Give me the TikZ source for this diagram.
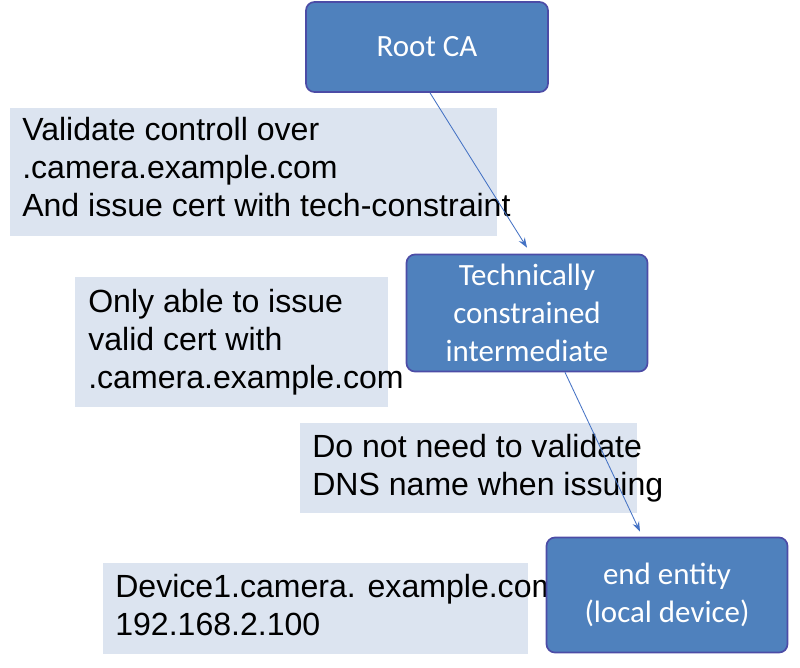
\documentclass[tikz,border=0pt]{standalone}
\usepackage{fontspec}
\setmainfont{Carlito}
\newfontfamily\notefont{Liberation Sans}
\usetikzlibrary{arrows.meta}
\begin{document}
\begin{tikzpicture}[x=0.025cm,y=-0.025cm,
  ca/.style={draw=blue!50!black!70, line width=1.2pt, fill={rgb,255:red,79;green,129;blue,189},
    rounded corners=6pt, text=white, font=\fontsize{22}{27}\selectfont, align=center, inner sep=0pt},
  note/.style={fill={rgb,255:red,220;green,228;blue,240}, draw=none},
  txt/.style={anchor=north west, align=left, inner sep=0pt, font=\notefont\fontsize{22.8}{27}\selectfont},
  link/.style={draw={rgb,255:red,68;green,114;blue,196}, line width=0.6pt, -{Stealth[length=7pt,width=5pt]}}]
\useasboundingbox (0,0) rectangle (800,667);
% notes
\fill[note] (10,108) rectangle (497,236);
\fill[note] (75,277) rectangle (388,407);
\fill[note] (300,423) rectangle (637,513);
\fill[note] (103,563) rectangle (528,654);
\node[txt] (t1) at (22,117) {Validate controll over\\.camera.example.com\\And issue cert with tech-constraint};
\node[txt] (t2) at (88,289) {Only able to issue\\valid cert with\\.camera.example.com};
\node[txt] (t3) at (312,434) {Do not need to validate\\DNS name when issuing};
\node[txt] (t4) at (115,574) {Device1.camera. example.com\\192.168.2.100};
% CA boxes
\node[ca, minimum width=242*0.025cm, minimum height=90*0.025cm] (root) at (427,47) {Root CA};
\node[ca, minimum width=241*0.025cm, minimum height=117*0.025cm] (inter) at (527,313)
  {Technically\\constrained\\intermediate};
\node[ca, minimum width=241*0.025cm, minimum height=115*0.025cm] (ee) at (667,595)
  {end entity\\(local device)};
% links
\draw[link] ([xshift=3*0.025cm]root.south) -- ([yshift=6*0.025cm]inter.north);
\draw[link] ([xshift=38*0.025cm]inter.south) -- ([xshift=-27*0.025cm,yshift=5*0.025cm]ee.north);
\end{tikzpicture}
\end{document}
